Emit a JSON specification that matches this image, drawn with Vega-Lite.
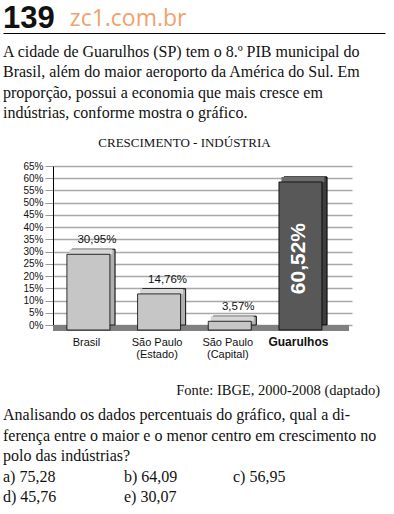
{
  "$schema": "https://vega.github.io/schema/vega-lite/v6.json",
  "padding": {"left": 3, "top": 0, "right": 0, "bottom": 0},
  "background": "white",
  "spacing": 0,
  "bounds": "flush",
  "config": {
    "view": {"stroke": null},
    "locale": {"number": {"decimal": ",", "thousands": ".", "grouping": [3], "currency": ["R$", ""]}}
  },
  "vconcat": [
    {
      "width": 332,
      "height": 28,
      "layer": [
        {
          "data": {"values": [{"t": "139", "line": 1}]},
          "mark": {"type": "text", "font": "Liberation Sans", "fontWeight": "bold", "fontSize": 31, "align": "left", "baseline": "alphabetic", "color": "#111111"},
          "encoding": {
            "x": {"datum": 0, "type": "quantitative", "scale": {"domain": [0, 1], "range": [-50, 332]}, "axis": {"domain": true, "domainColor": "#000000", "domainWidth": 1.2, "ticks": false, "labels": false, "grid": false, "title": null, "offset": 5}},
            "y": {"field": "line", "type": "quantitative", "scale": {"domain": [0, 1], "range": [0, 28]}, "axis": null},
            "text": {"field": "t"}
          }
        },
        {
          "data": {"values": [{"t": "zc1.com.br", "line": 1}]},
          "mark": {"type": "text", "font": "Open Sans", "fontSize": 23, "align": "left", "baseline": "alphabetic", "color": "#f0a26c", "dy": -2},
          "encoding": {
            "x": {"datum": 0.175, "type": "quantitative"},
            "y": {"field": "line", "type": "quantitative"},
            "text": {"field": "t"}
          }
        }
      ]
    },
    {
      "width": 332,
      "height": 138,
      "data": {"values": [
        {"line": 1, "t": "A cidade de Guarulhos (SP) tem o 8.º PIB municipal do"},
        {"line": 2, "t": "Brasil, além do maior aeroporto da América do Sul. Em"},
        {"line": 3, "t": "proporção, possui a economia que mais cresce em"},
        {"line": 4, "t": "indústrias, conforme mostra o gráfico."}
      ]},
      "mark": {"type": "text", "font": "Liberation Serif", "fontSize": 16, "align": "left", "baseline": "alphabetic", "color": "#111111"},
      "encoding": {
        "x": {"datum": 0, "type": "quantitative", "scale": {"domain": [0, 1], "range": [-50, 332]}, "axis": null},
        "y": {"field": "line", "type": "quantitative", "scale": {"domain": [1, 4], "range": [29, 90]}, "axis": null},
        "text": {"field": "t"}
      }
    },
    {
      "width": 299,
      "height": 159,
      "title": {"text": "CRESCIMENTO - INDÚSTRIA", "font": "Liberation Serif", "fontSize": 13, "fontWeight": "normal", "color": "#111111", "anchor": "middle", "frame": "group", "dx": -18, "offset": 1, "baseline": "alphabetic"},
      "data": {"values": [
        {"cat": "Brasil", "v": 0.3095},
        {"cat": "São Paulo (Estado)", "v": 0.1476},
        {"cat": "São Paulo (Capital)", "v": 0.0357},
        {"cat": "Guarulhos", "v": 0.6052}
      ]},
      "encoding": {
        "y": {"field": "v", "type": "quantitative",
          "scale": {"domain": [0, 0.65], "nice": false},
          "axis": {"title": null, "values": [0, 0.05, 0.1, 0.15, 0.2, 0.25, 0.3, 0.35, 0.4, 0.45, 0.5, 0.55, 0.6, 0.65],
            "tickCount": 20,
            "format": ".0%", "grid": true, "gridColor": "#a9a9a9", "gridWidth": 1.5, "labelOverlap": false,
            "domain": true, "domainColor": "#000000", "domainWidth": 1,
            "ticks": true, "tickColor": "#999999", "tickSize": 8, "labelPadding": 2,
            "labelFont": "Liberation Sans", "labelFontSize": 10, "labelColor": "#111111"}}
      },
      "layer": [
        {
          "mark": {"type": "bar", "stroke": "#000000", "strokeWidth": 0.8},
          "encoding": {
            "x": {"field": "cat", "type": "nominal", "sort": null,
              "scale": {"paddingInner": 0.3915, "paddingOuter": 0.311, "align": 0.43},
              "axis": {"title": null, "domain": false, "ticks": false, "tickSize": 0, "labelAngle": 0,
                "labelFont": "Liberation Sans",
                "labelFontSize": {"condition": {"test": "datum.value === 'Guarulhos'", "value": 12}, "value": 11},
                "labelFontWeight": {"condition": {"test": "datum.value === 'Guarulhos'", "value": "bold"}, "value": "normal"},
                "labelColor": "#111111", "labelPadding": 11, "labelOffset": -7, "labelLineHeight": 12,
                "labelExpr": "indexof(datum.label, ' (') > 0 ? [slice(datum.label, 0, indexof(datum.label, ' (')), slice(datum.label, indexof(datum.label, ' (') + 1)] : datum.label"}},
            "fill": {"condition": {"test": "datum.cat === 'Guarulhos'", "value": "#3e3e3e"}, "value": "#b0b0b0"}
          }
        },
        {
          "mark": {"type": "rule", "color": "#808080", "strokeWidth": 6, "yOffset": 3, "xOffset": -3},
          "encoding": {"y": {"datum": 0, "type": "quantitative"}}
        },
        {
          "mark": {"type": "bar", "stroke": "#000000", "strokeWidth": 0.8},
          "encoding": {
            "x": {"field": "cat", "type": "nominal", "sort": null},
            "fill": {"condition": {"test": "datum.cat === 'Guarulhos'", "value": "#3e3e3e"}, "value": "#b0b0b0"}
          }
        },
        {
          "mark": {"type": "bar", "xOffset": -2.5, "x2Offset": -2.5, "y2Offset": 5},
          "encoding": {
            "x": {"field": "cat", "type": "nominal", "sort": null},
            "y2": {"field": "v"},
            "fill": {"condition": {"test": "datum.cat === 'Guarulhos'", "value": "#6c6c6c"}, "value": "#d6d6d6"}
          }
        },
        {
          "mark": {"type": "bar", "xOffset": -5, "x2Offset": -5, "yOffset": 5, "y2Offset": 5, "stroke": "#000000", "strokeWidth": 0.8},
          "encoding": {
            "x": {"field": "cat", "type": "nominal", "sort": null},
            "fill": {"condition": {"test": "datum.cat === 'Guarulhos'", "value": "#585858"}, "value": "#c6c6c6"}
          }
        },
        {
          "transform": [{"filter": "datum.cat !== 'Guarulhos'"}],
          "mark": {"type": "text", "font": "Liberation Sans", "fontSize": 11.5, "dy": -6, "xOffset": 3.5, "baseline": "alphabetic", "color": "#111111"},
          "encoding": {
            "x": {"field": "cat", "type": "nominal", "sort": null},
            "text": {"field": "v", "format": ".2%"}
          }
        },
        {
          "transform": [{"filter": "datum.cat === 'Guarulhos'"}],
          "mark": {"type": "text", "angle": 270, "font": "Liberation Sans", "fontWeight": "bold", "fontSize": 21, "color": "#ffffff", "align": "right", "baseline": "middle", "dx": -46, "dy": -6.5},
          "encoding": {
            "x": {"field": "cat", "type": "nominal", "sort": null},
            "text": {"field": "v", "format": ".2%"}
          }
        }
      ]
    },
    {
      "width": 327,
      "height": 70,
      "data": {"values": [{"line": 1, "t": "Fonte: IBGE, 2000-2008 (daptado)"}]},
      "mark": {"type": "text", "font": "Liberation Serif", "fontSize": 14.5, "align": "right", "baseline": "alphabetic", "color": "#111111"},
      "encoding": {
        "x": {"datum": 1, "type": "quantitative", "scale": {"domain": [0, 1], "range": [-50, 327]}, "axis": null},
        "y": {"field": "line", "type": "quantitative", "scale": {"domain": [0, 1], "range": [0, 70]}, "axis": null},
        "text": {"field": "t"}
      }
    },
    {
      "width": 332,
      "height": 119,
      "data": {"values": [
        {"line": 1, "col": 0, "t": "Analisando os dados percentuais do gráfico, qual a di-"},
        {"line": 2, "col": 0, "t": "ferença entre o maior e o menor centro em crescimento no"},
        {"line": 3, "col": 0, "t": "polo das indústrias?"},
        {"line": 4, "col": 0, "t": "a) 75,28"},
        {"line": 4, "col": 1, "t": "b) 64,09"},
        {"line": 4, "col": 2, "t": "c) 56,95"},
        {"line": 5, "col": 0, "t": "d) 45,76"},
        {"line": 5, "col": 1, "t": "e) 30,07"}
      ]},
      "mark": {"type": "text", "font": "Liberation Serif", "fontSize": 16, "align": "left", "baseline": "alphabetic", "color": "#111111"},
      "encoding": {
        "x": {"field": "col", "type": "quantitative", "scale": {"domain": [0, 1, 2], "range": [-50, 71, 180]}, "axis": null},
        "y": {"field": "line", "type": "quantitative", "scale": {"domain": [1, 5], "range": [25, 107]}, "axis": null},
        "text": {"field": "t"}
      }
    }
  ]
}
